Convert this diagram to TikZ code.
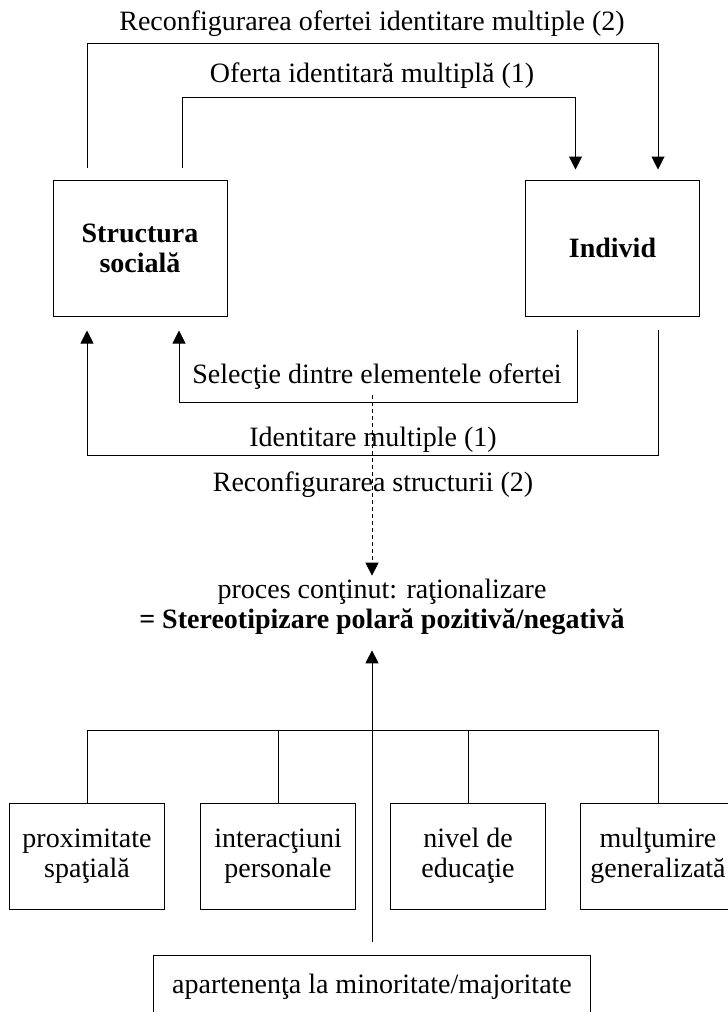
\documentclass[tikz,border=0pt]{standalone}
\usepackage{fontspec}
\setmainfont{Liberation Serif}
\usetikzlibrary{arrows.meta}

\tikzset{
  >={Triangle[length=13pt,width=13pt]},
  every node/.style={font=\fontsize{28}{30}\selectfont},
  link/.style={line width=1pt},
  dlink/.style={line width=0.8pt, dash pattern=on 4pt off 3pt},
  bigbox/.style={draw, line width=1pt, align=center, inner sep=0pt,
    minimum width=174pt, minimum height=136pt},
  factor/.style={draw, line width=1pt, align=center, inner sep=0pt,
    minimum width=155pt, minimum height=106pt},
}

\begin{document}
\begin{tikzpicture}[x=1pt,y=-1pt]
    \useasboundingbox (0,0) rectangle (728,1012);

    \node[bigbox] (ss) at (140,248) {\textbf{Structura}\\\textbf{socială}};
    \node[bigbox] (ind) at (612.5,248) {\textbf{Individ}};

    \node (lRecOf) at (372,24) {Reconfigurarea ofertei identitare multiple (2)};
    \node (lOf) at (372,76) {Oferta identitară multiplă (1)};
    \node (lSel) at (377,377) {Selecţie dintre elementele ofertei};
    \node (lId) at (373,440) {Identitare multiple (1)};
    \node (lRecSt) at (373,485) {Reconfigurarea structurii (2)};

    \node[align=center] (proc) at (382,607)
        {proces conţinut: raţionalizare\\\textbf{= Stereotipizare polară pozitivă/negativă}};

    \node[factor] (f1) at (87,856) {proximitate\\spaţială};
    \node[factor] (f2) at (278,856) {interacţiuni\\personale};
    \node[factor] (f3) at (468,856) {nivel de\\educaţie};
    \node[factor] (f4) at (658,856) {mulţumire\\generalizată};

    \node[draw, line width=1pt, inner sep=0pt, minimum width=437pt, minimum height=64pt]
        (app) at (372,987) {apartenenţa la minoritate/majoritate};

    \coordinate (lvA) at (0,43);
    \coordinate (lvB) at (0,97);
    \coordinate (lvC) at (0,402);
    \coordinate (lvD) at (0,455);
    \coordinate (bus) at (0,730);
    \coordinate (dTop) at (372,395);

    \coordinate (ssOut) at ([xshift=-53pt]ss.north);
    \coordinate (ssIn) at ([xshift=42pt]ss.north);
    \coordinate (indIn) at ([xshift=-37pt]ind.north);
    \coordinate (indOut) at ([xshift=45.5pt]ind.north);
    \coordinate (ssOutB) at ([xshift=-53pt]ss.south);
    \coordinate (ssInB) at ([xshift=39pt]ss.south);
    \coordinate (indInB) at ([xshift=-35.5pt]ind.south);
    \coordinate (indOutB) at ([xshift=45.5pt]ind.south);

    \draw[link,->,shorten <=12pt,shorten >=10pt] (ssOut) -- (ssOut |- lvA) -| (indOut);
    \draw[link,->,shorten <=12pt,shorten >=10pt] (ssIn) -- (ssIn |- lvB) -| (indIn);
    \draw[link,->,shorten <=13pt,shorten >=14pt] (indInB) -- (indInB |- lvC) -| (ssInB);
    \draw[link,->,shorten <=13pt,shorten >=14pt] (indOutB) -- (indOutB |- lvD) -| (ssOutB);

    \draw[dlink,->] (dTop) -- (dTop |- proc.north);

    \draw[link] (f1.north) -- (f1.north |- bus) -- (f4.north |- bus) -- (f4.north);
    \draw[link] (f2.north) -- (f2.north |- bus);
    \draw[link] (f3.north) -- (f3.north |- bus);
    \draw[link,->,shorten <=13pt,shorten >=12pt] (app.north) -- (app.north |- proc.south);
\end{tikzpicture}
\end{document}
